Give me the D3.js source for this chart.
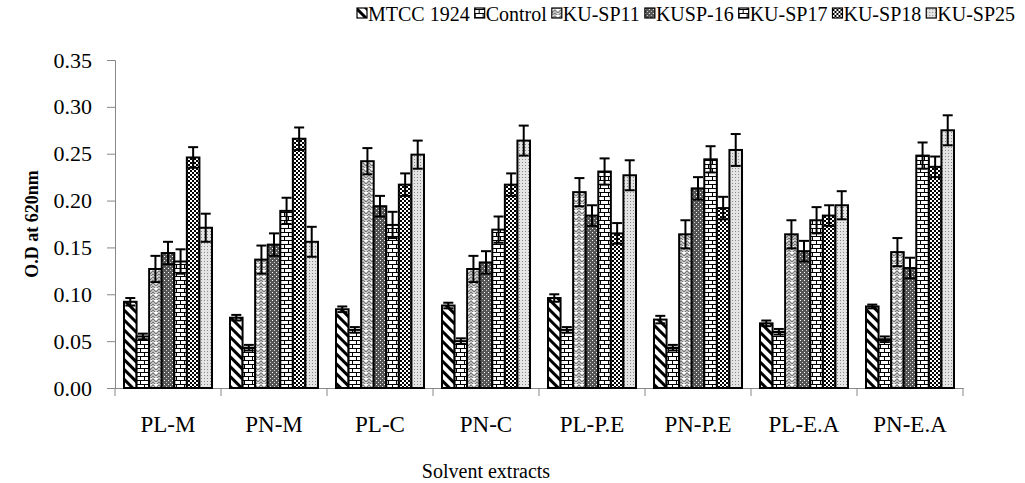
<!DOCTYPE html>
<html>
<head>
<meta charset="utf-8">
<script src="https://cdn.jsdelivr.net/npm/d3@7"></script>
<style>
  body { margin: 0; background: #fff; }
  text { font-family: "Times New Roman", "Liberation Serif", serif; fill: #000; }
</style>
</head>
<body>
<div id="chart"></div>
<script>
const width = 1025,
  height = 483,
  margin = { top: 60, bottom: 95, left: 115, right: 62 };

// data
const categories = ["PL-M", "PN-M", "PL-C", "PN-C", "PL-P.E", "PN-P.E", "PL-E.A", "PN-E.A"];
const seriesNames = ["MTCC 1924", "Control", "KU-SP11", "KUSP-16", "KU-SP17", "KU-SP18", "KU-SP25"];

const mtcc    = [0.092, 0.075, 0.084, 0.088, 0.096, 0.073, 0.069, 0.087];
const control = [0.055, 0.043, 0.062, 0.050, 0.062, 0.043, 0.060, 0.052];
const sp11    = [0.127, 0.137, 0.242, 0.127, 0.209, 0.164, 0.164, 0.145];
const sp16    = [0.144, 0.153, 0.194, 0.134, 0.184, 0.213, 0.146, 0.128];
const sp17    = [0.135, 0.189, 0.174, 0.169, 0.231, 0.244, 0.179, 0.248];
const sp18    = [0.246, 0.266, 0.217, 0.217, 0.165, 0.192, 0.184, 0.236];
const sp25    = [0.171, 0.156, 0.249, 0.264, 0.227, 0.254, 0.195, 0.275];

const mtccErr    = [0.004, 0.003, 0.003, 0.003, 0.004, 0.004, 0.003, 0.002];
const controlErr = [0.003, 0.003, 0.003, 0.003, 0.003, 0.003, 0.003, 0.003];
const sp11Err    = [0.014, 0.015, 0.014, 0.014, 0.015, 0.015, 0.015, 0.015];
const sp16Err    = [0.012, 0.012, 0.011, 0.012, 0.011, 0.012, 0.011, 0.011];
const sp17Err    = [0.013, 0.014, 0.014, 0.014, 0.014, 0.014, 0.014, 0.014];
const sp18Err    = [0.011, 0.012, 0.012, 0.012, 0.011, 0.012, 0.011, 0.011];
const sp25Err    = [0.015, 0.016, 0.015, 0.016, 0.016, 0.017, 0.015, 0.016];

const yTicks = [0, 0.05, 0.10, 0.15, 0.20, 0.25, 0.30, 0.35];

const seriesValues = [mtcc, control, sp11, sp16, sp17, sp18, sp25];
const seriesErrors = [mtccErr, controlErr, sp11Err, sp16Err, sp17Err, sp18Err, sp25Err];
const patternIds = ["pStripe", "pBrick", "pZig", "pDark", "pBrick2", "pCheck", "pDots"];

const rows = [];
categories.forEach((c, i) => {
  seriesNames.forEach((s, j) => {
    rows.push({ cat: c, series: s, value: seriesValues[j][i], err: seriesErrors[j][i], pat: patternIds[j] });
  });
});

const svg = d3.select("#chart")
  .append("svg")
  .attr("width", width)
  .attr("height", height);

// fill patterns
const defs = svg.append("defs");

const stripe = defs.append("pattern").attr("id", "pStripe")
  .attr("patternUnits", "userSpaceOnUse").attr("width", 7).attr("height", 7)
  .attr("patternTransform", "rotate(-45)");
stripe.append("rect").attr("width", 7).attr("height", 7).attr("fill", "#fff");
stripe.append("rect").attr("width", 3).attr("height", 7).attr("fill", "#000");

function brick(id, w, h) {
  const p = defs.append("pattern").attr("id", id)
    .attr("patternUnits", "userSpaceOnUse").attr("width", w).attr("height", h * 2);
  p.append("rect").attr("width", w).attr("height", h * 2).attr("fill", "#fff");
  p.append("path")
    .attr("d", `M0,0.5H${w}M0,${h + 0.5}H${w}M0.5,0V${h}M${w / 2 + 0.5},${h}V${h * 2}`)
    .attr("stroke", "#000").attr("stroke-width", 1).attr("fill", "none");
}
brick("pBrick", 8, 4);
brick("pBrick2", 8, 4);

const zig = defs.append("pattern").attr("id", "pZig")
  .attr("patternUnits", "userSpaceOnUse").attr("width", 6).attr("height", 6);
zig.append("rect").attr("width", 6).attr("height", 6).attr("fill", "#fff");
zig.append("path").attr("d", "M0,4L3,1L6,4M0,7L3,4L6,7")
  .attr("stroke", "#777").attr("stroke-width", 1.3).attr("fill", "none");

const dark = defs.append("pattern").attr("id", "pDark")
  .attr("patternUnits", "userSpaceOnUse").attr("width", 4).attr("height", 4);
dark.append("rect").attr("width", 4).attr("height", 4).attr("fill", "#555");
dark.append("rect").attr("width", 1).attr("height", 1).attr("fill", "#fff");
dark.append("rect").attr("x", 2).attr("y", 2).attr("width", 1).attr("height", 1).attr("fill", "#ccc");

const check = defs.append("pattern").attr("id", "pCheck")
  .attr("patternUnits", "userSpaceOnUse").attr("width", 4).attr("height", 4);
check.append("rect").attr("width", 4).attr("height", 4).attr("fill", "#fff");
check.append("rect").attr("width", 2).attr("height", 2).attr("fill", "#000");
check.append("rect").attr("x", 2).attr("y", 2).attr("width", 2).attr("height", 2).attr("fill", "#000");

const dots = defs.append("pattern").attr("id", "pDots")
  .attr("patternUnits", "userSpaceOnUse").attr("width", 3).attr("height", 3);
dots.append("rect").attr("width", 3).attr("height", 3).attr("fill", "#e4e4e4");
dots.append("rect").attr("width", 1).attr("height", 1).attr("fill", "#888");

// scales
const x0 = d3.scaleBand()
  .domain(categories)
  .range([margin.left, width - margin.right]);

const x1 = d3.scaleBand()
  .domain(seriesNames)
  .range([9, x0.bandwidth() - 9]);

const y = d3.scaleLinear()
  .domain([0, 0.35])
  .range([height - margin.bottom, margin.top]);

// y axis
const yAxis = svg.append("g")
  .attr("transform", `translate(${margin.left},0)`)
  .call(d3.axisLeft(y).tickValues(yTicks).tickFormat(d3.format(".2f")).tickSize(8).tickPadding(15));
yAxis.select(".domain").attr("stroke", "#888");
yAxis.selectAll(".tick line").attr("stroke", "#888");
yAxis.selectAll(".tick text").style("font-size", "22px").attr("font-family", null);

// x axis
const xAxis = svg.append("g")
  .attr("transform", `translate(0,${y(0)})`)
  .call(d3.axisBottom(x0).tickSize(0).tickPadding(28));
xAxis.select(".domain").attr("stroke", "#888");
xAxis.selectAll(".tick text").style("font-size", "23px").attr("font-family", null);

// category separators
svg.append("g")
  .selectAll("line")
  .data(categories.concat(["end"]))
  .join("line")
  .attr("x1", (d, i) => margin.left + i * x0.step())
  .attr("x2", (d, i) => margin.left + i * x0.step())
  .attr("y1", y(0))
  .attr("y2", y(0) + 8)
  .attr("stroke", "#888");

// bars
svg.append("g")
  .selectAll("rect")
  .data(rows)
  .join("rect")
  .attr("x", d => x0(d.cat) + x1(d.series))
  .attr("y", d => y(d.value))
  .attr("width", x1.bandwidth())
  .attr("height", d => y(0) - y(d.value))
  .attr("fill", d => `url(#${d.pat})`)
  .attr("stroke", "#000")
  .attr("stroke-width", 2);

// error bars
const eb = svg.append("g")
  .selectAll("g")
  .data(rows)
  .join("g")
  .attr("transform", d => `translate(${x0(d.cat) + x1(d.series) + x1.bandwidth() / 2},0)`);

eb.append("line")
  .attr("y1", d => y(d.value - d.err))
  .attr("y2", d => y(d.value + d.err))
  .attr("stroke", "#000").attr("stroke-width", 2);
eb.append("line")
  .attr("x1", -5).attr("x2", 5)
  .attr("y1", d => y(d.value + d.err))
  .attr("y2", d => y(d.value + d.err))
  .attr("stroke", "#000").attr("stroke-width", 2);
eb.append("line")
  .attr("x1", -5).attr("x2", 5)
  .attr("y1", d => y(d.value - d.err))
  .attr("y2", d => y(d.value - d.err))
  .attr("stroke", "#000").attr("stroke-width", 2);

// axis titles
svg.append("text")
  .attr("transform", `translate(38,${(y(0) + y(0.35)) / 2}) rotate(-90)`)
  .attr("text-anchor", "middle")
  .style("font-size", "18px")
  .style("font-weight", "bold")
  .text("O.D at 620nm");

svg.append("text")
  .attr("x", 486)
  .attr("y", 478)
  .attr("text-anchor", "middle")
  .style("font-size", "20px")
  .text("Solvent extracts");

// legend
const legend = svg.append("g").attr("transform", "translate(357,21)");
let lx = 0;
seriesNames.forEach((s, j) => {
  const item = legend.append("g").attr("transform", `translate(${lx},0)`);
  item.append("rect")
    .attr("x", 0).attr("y", -13)
    .attr("width", 10).attr("height", 10)
    .attr("fill", `url(#${patternIds[j]})`)
    .attr("stroke", "#000").attr("stroke-width", 1.2);
  const t = item.append("text")
    .attr("x", 11).attr("y", 0)
    .style("font-size", "20px")
    .text(s);
  lx += 11 + t.node().getComputedTextLength() + 5;
});
</script>
</body>
</html>
